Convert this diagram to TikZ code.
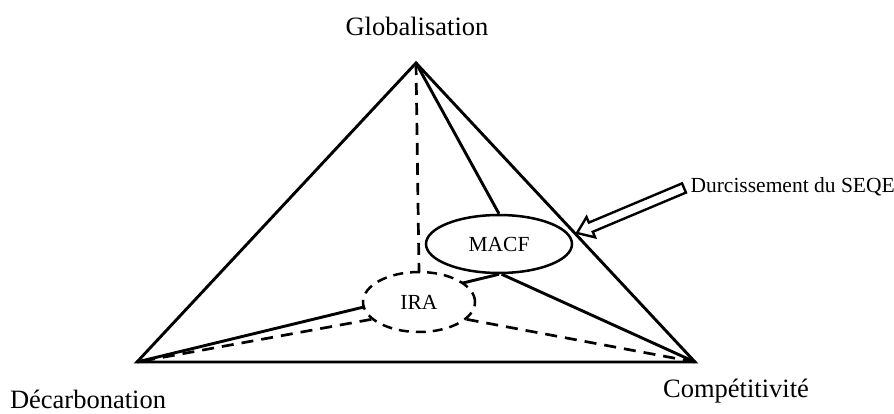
\documentclass[tikz,border=0pt]{standalone}
\usepackage{fontspec}
\setmainfont{Liberation Serif}
\usetikzlibrary{calc,shapes.geometric}
\begin{document}
\begin{tikzpicture}[x=1pt,y=-1pt,line join=miter,
	edge/.style={line width=2.9pt},
	dashline/.style={line width=2.7pt,dash pattern=on 12pt off 8pt},
	bubble/.style={ellipse,draw,line width=2.5pt,fill=white,inner sep=0pt,font=\fontsize{21.5}{25}\selectfont},
	corner/.style={font=\fontsize{26.5}{31}\selectfont,inner sep=1pt}]
	\useasboundingbox (0,0) rectangle (894,414);

	\coordinate (glob) at (416,63);
	\coordinate (deca) at (137,362);
	\coordinate (comp) at (695,362);

	\node[corner] (tglob) at (417,26) {Globalisation};
	\node[corner] (tdeca) at (88,399) {D\'ecarbonation};
	\node[corner] (tcomp) at (736,391) {Comp\'etitivit\'e};

	\node[bubble,minimum width=146pt,minimum height=58pt] (macf) at (499,244) {MACF};

	% lines into the two ellipses
	\draw[edge] (glob) -- (macf.north);
	\draw[edge] (macf.-85) -- (comp);
	\draw[edge] (deca) -- (macf.south);
	\draw[dashline] (glob) -- (419,272);

	\node[bubble,dash pattern=on 10pt off 7pt,minimum width=112pt,minimum height=60pt] (ira) at (419,302) {IRA};
	\draw[dashline] (ira.200) -- (deca);
	\draw[dashline] (ira.-20) -- (comp);

	\draw[edge] (deca) -- (comp) -- (glob) -- cycle;

	% hollow arrow
	\node[anchor=west,font=\fontsize{21.5}{25}\selectfont] (seqe) at (687,187) {Durcissement du SEQE};
	\coordinate (atail) at ($(seqe.west)+(-3,1)$);
	\coordinate (atip) at (577,233);
	\coordinate (aneck) at ($(atip)!15pt!(atail)$);
	\draw[line width=2.4pt,fill=white] ($(atail)!5pt!90:(atip)$) -- ($(aneck)!5pt!-90:(atail)$)
		-- ($(aneck)!11pt!-90:(atail)$) -- (atip) -- ($(aneck)!11pt!90:(atail)$)
		-- ($(aneck)!5pt!90:(atail)$) -- ($(atail)!5pt!-90:(atip)$) -- cycle;
\end{tikzpicture}
\end{document}
